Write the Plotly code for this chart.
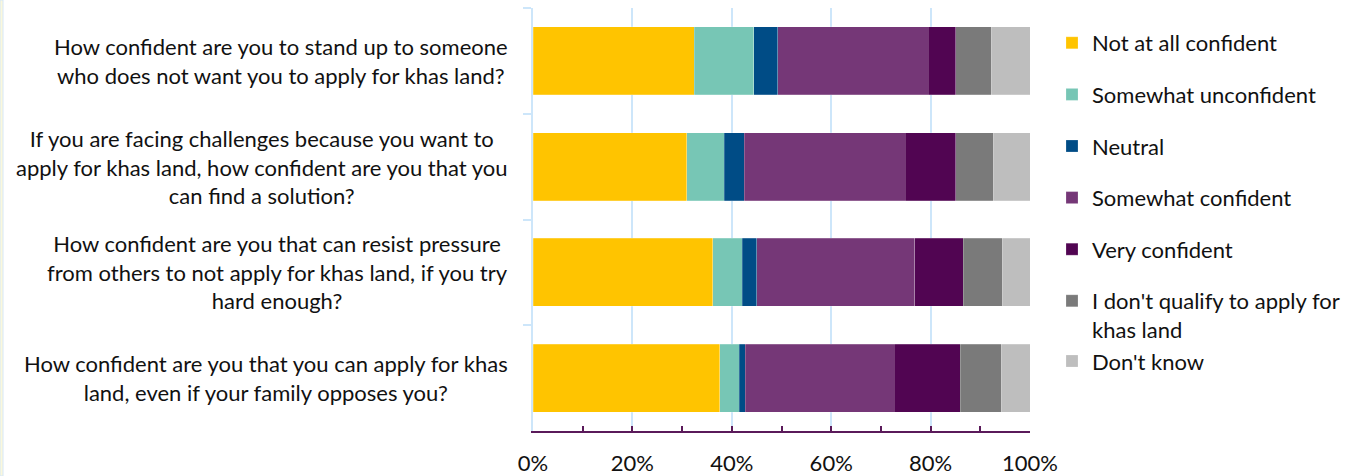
import plotly.graph_objects as go

# Survey questions (top to bottom)
questions = [
    "How confident are you to stand up to someone<br>who does not want you to apply for khas land?",
    "If you are facing challenges because you want to<br>apply for khas land, how confident are you that you<br>can find a solution?",
    "How confident are you that can resist pressure<br>from others to not apply for khas land, if you try<br>hard enough?",
    "How confident are you that you can apply for khas<br>land, even if your family opposes you?",
]

# Response categories and their shares (%) per question
responses = [
    "Not at all confident",
    "Somewhat unconfident",
    "Neutral",
    "Somewhat confident",
    "Very confident",
    "I don't qualify to apply for<br>khas land",
    "Don't know",
]
not_at_all = [32.4, 30.9, 36.2, 37.6]
somewhat_unconfident = [12.0, 7.6, 5.9, 3.9]
neutral = [4.8, 4.0, 2.9, 1.2]
somewhat_confident = [30.3, 32.4, 31.8, 30.0]
very_confident = [5.6, 10.2, 9.8, 13.3]
dont_qualify = [7.1, 7.5, 7.8, 8.2]
dont_know = [7.8, 7.4, 5.6, 5.8]

series = [not_at_all, somewhat_unconfident, neutral, somewhat_confident,
          very_confident, dont_qualify, dont_know]
colors = ["#FFC400", "#77C6B5", "#004C86", "#753777", "#510552", "#7A7A7A", "#BEBEBE"]
groups = ["g1", "g2", "g3", "g4", "g5", "g6", "g6"]

FONT = "Lato"
FS = 22
TEXT = "#111111"
GRID = "#CDE6FA"
AXIS = "#5A1A5A"

W, H = 1362, 476
L, R, T, B = 533, 332, 8, 45
pw = W - L - R
ph = H - T - B

fig = go.Figure()
for name, vals, col, grp in zip(responses, series, colors, groups):
    fig.add_trace(go.Bar(
        y=questions, x=vals, name=name, orientation="h",
        marker=dict(color=col, line=dict(color="rgba(255,255,255,0.35)", width=0.6)),
        legendgroup=grp,
    ))

for q in questions:
    fig.add_annotation(
        x=(510 - L) / pw, xref="paper", y=q, yref="y",
        text=q, showarrow=False, xanchor="right", yanchor="middle",
        align="center", font=dict(family=FONT, size=FS, color=TEXT),
    )

# thin strip along the left edge
fig.add_shape(type="rect", xref="paper", yref="paper",
              x0=-L / pw, x1=(3 - L) / pw, y0=-B / ph, y1=1 + T / ph,
              fillcolor="#FBF8DC", line=dict(color="#D6E8F8", width=1), layer="below")

fig.update_layout(
    width=W, height=H,
    margin=dict(l=L, r=R, t=T, b=B, autoexpand=False),
    barmode="stack", bargap=0.357,
    plot_bgcolor="white", paper_bgcolor="white",
    font=dict(family=FONT, size=FS, color=TEXT),
    legend=dict(
        x=(1052 - L) / pw, xanchor="left", y=1 - 14 / ph, yanchor="top",
        traceorder="grouped", tracegroupgap=20, valign="top",
        font=dict(family=FONT, size=FS, color=TEXT),
        bgcolor="rgba(0,0,0,0)",
    ),
    xaxis=dict(
        range=[0, 100], dtick=20, ticksuffix="%",
        showgrid=True, gridcolor=GRID, gridwidth=2,
        showline=True, linecolor=AXIS, linewidth=2,
        ticks="inside", ticklen=5, tickcolor=AXIS, tickwidth=2,
        minor=dict(dtick=10, ticks="inside", ticklen=5, tickcolor=AXIS, tickwidth=2, showgrid=False),
        tickfont=dict(family=FONT, size=FS, color=TEXT),
        ticklabelstandoff=12, automargin=False,
        zeroline=False, fixedrange=True,
    ),
    yaxis=dict(
        autorange="reversed", showticklabels=False, automargin=False,
        showline=True, linecolor=GRID, linewidth=2,
        ticks="outside", tickson="boundaries", ticklen=8, tickcolor=GRID, tickwidth=2,
        showgrid=False,
    ),
)

fig.write_html("out.html")
